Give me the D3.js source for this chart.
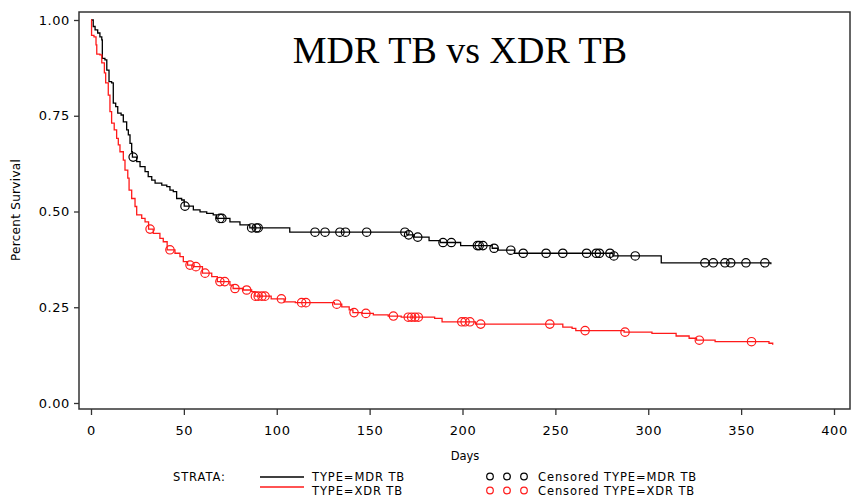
<!DOCTYPE html>
<html>
<head>
<meta charset="utf-8">
<script src="https://cdn.jsdelivr.net/npm/d3@7"></script>
<style>
  html, body { margin: 0; padding: 0; background: #fff; }
  svg { display: block; }
</style>
</head>
<body>
<svg id="chart" width="853" height="498"></svg>
<script>
// ---- Data (Kaplan-Meier step functions) ----
const xTicks = [0, 50, 100, 150, 200, 250, 300, 350, 400];
const yTicks = [0, 0.25, 0.5, 0.75, 1.0];
const yTickLabels = ["0.00", "0.25", "0.50", "0.75", "1.00"];

const mdrDays = [0, 1.2, 2.2, 3.6, 4.8, 5.8, 6.1, 7.5, 8.5, 9.7, 11.1, 12, 13.3, 14.4, 16.2, 17.4, 19.2, 20.1, 21, 21.9, 22.3, 24.6, 26.4, 29.1, 30.8, 32.7, 34.5, 38.1, 40.8, 42.5, 44.3, 46.1, 48.8, 50.2, 55.1, 58.7, 62.3, 65.8, 67.5, 74.8, 80.2, 85.5, 107, 170, 174, 182, 188, 199, 216, 219, 228, 281, 307, 366];
const mdrSurv = [1.0, 0.983, 0.974, 0.966, 0.956, 0.948, 0.900, 0.896, 0.869, 0.839, 0.836, 0.783, 0.774, 0.757, 0.752, 0.734, 0.713, 0.700, 0.678, 0.656, 0.642, 0.630, 0.617, 0.604, 0.591, 0.582, 0.574, 0.569, 0.565, 0.556, 0.552, 0.534, 0.530, 0.514, 0.504, 0.499, 0.495, 0.491, 0.482, 0.473, 0.465, 0.457, 0.446, 0.439, 0.433, 0.424, 0.419, 0.411, 0.404, 0.399, 0.391, 0.384, 0.366, 0.362];
const mdrCensored = [22.7, 50.6, 69.4, 70.5, 86.5, 89, 90, 120.6, 126, 134, 137, 148.4, 169, 171, 175.9, 189.5, 194, 208, 209, 211, 217, 226, 232.7, 245, 254, 266.8, 272, 273.7, 279.4, 281.5, 293, 330.5, 335, 341.3, 344.4, 352.6, 362.8];

const xdrDays = [0, 0.3, 1.6, 2.7, 3.1, 4.8, 5.8, 7.2, 7.9, 9.3, 10.2, 11.1, 12.5, 13.8, 14.7, 15.6, 17.4, 18.3, 19.8, 20.5, 21.9, 23.7, 24.6, 27.3, 29.1, 31, 33.5, 37.1, 38.9, 41, 45.2, 47.9, 49.7, 52, 55, 60, 65, 68, 74.8, 76.5, 82, 86.5, 88.3, 97, 104, 110, 131, 135, 139, 141, 146, 152, 160, 167, 185, 189, 207, 254, 259, 261, 287, 302, 315, 322, 326, 336, 365, 367];
const xdrSurv = [1.0, 0.960, 0.956, 0.935, 0.911, 0.909, 0.888, 0.862, 0.836, 0.804, 0.761, 0.731, 0.713, 0.691, 0.674, 0.656, 0.634, 0.608, 0.587, 0.556, 0.534, 0.513, 0.491, 0.482, 0.473, 0.454, 0.443, 0.430, 0.421, 0.400, 0.391, 0.382, 0.369, 0.360, 0.356, 0.339, 0.330, 0.317, 0.308, 0.299, 0.295, 0.291, 0.279, 0.272, 0.264, 0.262, 0.258, 0.251, 0.243, 0.236, 0.234, 0.230, 0.227, 0.224, 0.221, 0.212, 0.206, 0.198, 0.195, 0.189, 0.185, 0.182, 0.175, 0.169, 0.164, 0.160, 0.156, 0.152];
const xdrCensored = [31.8, 42.5, 53.3, 56.5, 61.4, 69.4, 72, 77.5, 83.8, 88.5, 90, 92, 93.7, 102.5, 113.4, 115.7, 132.3, 141.6, 148, 162.8, 170.8, 172.6, 174.4, 176.2, 199.6, 201.4, 204, 209.8, 247, 266, 287.5, 327.5, 355.6];

const seriesNames = ["TYPE=MDR TB", "TYPE=XDR TB"];
const seriesColors = ["#000000", "#ff1a1a"];

// ---- Layout ----
const svg = d3.select("#chart");
const frame = { left: 79, right: 850, top: 12, bottom: 409 };
const x = d3.scaleLinear().domain([0, 400]).range([91, 834]);
const y = d3.scaleLinear().domain([0, 1]).range([403, 20]);
const font = "'DejaVu Sans', Verdana, sans-serif";

// Title
svg.append("text")
  .attr("x", 460).attr("y", 63)
  .attr("text-anchor", "middle")
  .attr("font-family", "'Liberation Serif', 'Times New Roman', serif")
  .attr("font-size", 38)
  .attr("fill", "#000")
  .text("MDR TB vs XDR TB");

// Frame
svg.append("rect")
  .attr("x", frame.left).attr("y", frame.top)
  .attr("width", frame.right - frame.left)
  .attr("height", frame.bottom - frame.top)
  .attr("fill", "none").attr("stroke", "#333").attr("stroke-width", 1.5);

// Y axis
const yAxis = d3.axisLeft(y).tickValues(yTicks)
  .tickFormat((d, i) => yTickLabels[i]).tickSize(5).tickPadding(4);
const gy = svg.append("g").attr("transform", `translate(${frame.left},0)`).call(yAxis);
gy.select(".domain").remove();
gy.selectAll("line").attr("stroke", "#333").attr("stroke-width", 1.3);
gy.selectAll("text").attr("font-family", font).attr("font-size", 13)
  .attr("letter-spacing", "0.6px").attr("fill", "#000");

// X axis
const xAxis = d3.axisBottom(x).tickValues(xTicks).tickSize(6).tickPadding(11);
const gx = svg.append("g").attr("transform", `translate(0,${frame.bottom})`).call(xAxis);
gx.select(".domain").remove();
gx.selectAll("line").attr("stroke", "#333").attr("stroke-width", 1.3);
gx.selectAll("text").attr("font-family", font).attr("font-size", 13)
  .attr("letter-spacing", "0.6px").attr("fill", "#000");

// Axis titles
svg.append("text")
  .attr("x", 465).attr("y", 460)
  .attr("text-anchor", "middle")
  .attr("font-family", font).attr("font-size", 11.5)
  .text("Days");
svg.append("text")
  .attr("transform", "translate(20,210) rotate(-90)")
  .attr("text-anchor", "middle")
  .attr("font-family", font).attr("font-size", 12)
  .attr("letter-spacing", "0.3px")
  .text("Percent Survival");

// Curves
const series = [
  { days: mdrDays, surv: mdrSurv, cens: mdrCensored, color: seriesColors[0] },
  { days: xdrDays, surv: xdrSurv, cens: xdrCensored, color: seriesColors[1] }
];
const line = d3.line().x(d => x(d[0])).y(d => y(d[1])).curve(d3.curveStepAfter);
const bis = d3.bisector(d => d).right;

series.forEach(s => {
  const pts = s.days.map((d, i) => [d, s.surv[i]]);
  svg.append("path")
    .datum(pts)
    .attr("d", line)
    .attr("fill", "none")
    .attr("stroke", s.color)
    .attr("stroke-width", 1.3);
  const cpts = s.cens.map(c => {
    const idx = Math.max(0, bis(s.days, c) - 1);
    return [c, s.surv[idx]];
  });
  svg.append("g").selectAll("circle")
    .data(cpts).join("circle")
    .attr("cx", d => x(d[0])).attr("cy", d => y(d[1]))
    .attr("r", 4.2)
    .attr("fill", "none")
    .attr("stroke", s.color)
    .attr("stroke-width", 1.2);
});

// Legend
const lg = svg.append("g").attr("font-family", font).attr("font-size", 11.5)
  .attr("letter-spacing", "0.9px").attr("fill", "#000");
lg.append("text").attr("x", 173).attr("y", 481).text("STRATA:");
[0, 1].forEach(i => {
  const ly = i === 0 ? 477 : 487;
  const ty = i === 0 ? 481 : 495;
  lg.append("line").attr("x1", 260).attr("x2", 304).attr("y1", ly).attr("y2", ly)
    .attr("stroke", seriesColors[i]).attr("stroke-width", 1.3);
  lg.append("text").attr("x", 312).attr("y", ty).text(seriesNames[i]);
  [490, 507, 524].forEach(cx => {
    lg.append("circle").attr("cx", cx).attr("cy", ty - 4.5).attr("r", 3.3)
      .attr("fill", "none").attr("stroke", seriesColors[i]).attr("stroke-width", 1.2);
  });
  lg.append("text").attr("x", 538).attr("y", ty).text("Censored " + seriesNames[i]);
});
</script>
</body>
</html>
